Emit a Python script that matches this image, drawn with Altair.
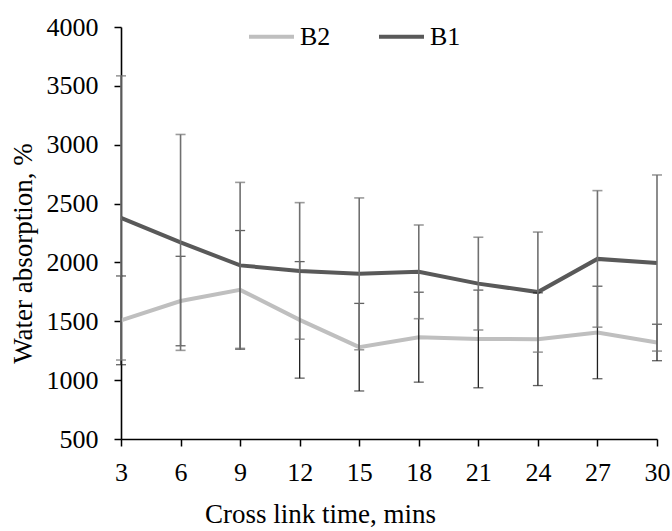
import altair as alt
import pandas as pd

x_vals = [3, 6, 9, 12, 15, 18, 21, 24, 27, 30]
b1_mean = [2378, 2170, 1975, 1928, 1903, 1920, 1820, 1748, 2030, 1995]
b1_err = [1207, 917, 705, 580, 645, 398, 394, 510, 580, 748]
b2_mean = [1508, 1672, 1767, 1512, 1280, 1365, 1350, 1348, 1405, 1320]
b2_err = [377, 380, 504, 495, 372, 382, 415, 394, 393, 155]
y_ticks = [500, 1000, 1500, 2000, 2500, 3000, 3500, 4000]

rows = []
for name, m, e in (("B2", b2_mean, b2_err), ("B1", b1_mean, b1_err)):
    for xv, mv, ev in zip(x_vals, m, e):
        rows.append({"series": name, "t": xv, "val": mv, "lo": mv - ev, "hi": mv + ev})
df = pd.DataFrame(rows)

FONT = "Liberation Serif"

xs = alt.X("t:Q", scale=alt.Scale(domain=[3, 30], nice=False, zero=False),
           axis=alt.Axis(values=x_vals, title="Cross link time, mins", format="d",
                         labelFlush=False,
                         titleX=199, titleY=83, titleBaseline="alphabetic",
                         titleAlign="center", labelPadding=13))
ys = alt.Y("val:Q", scale=alt.Scale(domain=[500, 4000], nice=False, zero=False),
           axis=alt.Axis(values=y_ticks, title="Water absorption, %", format="d",
                         labelFlush=False,
                         titleX=-90, titleY=226, titleAngle=-90,
                         titleBaseline="alphabetic", titleAlign="center",
                         labelPadding=16))

base = alt.Chart(df)

def bars(series, color, width):
    d = base.transform_filter(alt.datum.series == series)
    rule = d.mark_rule(color=color, strokeWidth=width).encode(
        x="t:Q", y="lo:Q", y2="hi:Q")
    cap_lo = d.mark_tick(color=color, thickness=width, size=10, orient="horizontal").encode(
        x="t:Q", y="lo:Q")
    cap_hi = d.mark_tick(color=color, thickness=width, size=10, orient="horizontal").encode(
        x="t:Q", y="hi:Q")
    return rule + cap_lo + cap_hi

lines = base.mark_line(strokeWidth=4).encode(
    x=xs, y=ys,
    color=alt.Color("series:N",
                    scale=alt.Scale(domain=["B2", "B1"], range=["#bfbfbf", "#595959"]),
                    sort=["B2", "B1"],
                    legend=alt.Legend(title=None, orient="none", direction="horizontal",
                                      legendX=126, legendY=-15,
                                      symbolType="stroke", symbolSize=2025,
                                      symbolStrokeWidth=4, labelOffset=4,
                                      columnPadding=40, padding=0,
                                      labelFont=FONT, labelFontSize=26,
                                      labelColor="black")),
)

chart = alt.layer(
    lines,
    bars("B2", "#1f1f1f", 1.3),
    bars("B1", "#707070", 1.6),
).properties(
    width=536, height=412,
    autosize=alt.AutoSizeParams(type="none"),
    padding={"left": 121, "top": 27, "right": 15, "bottom": 92},
    background="white",
).configure_view(stroke=None).configure_axis(
    grid=False, domainColor="black", domainWidth=1.6,
    tickColor="black", tickWidth=1.5, tickSize=7,
    labelFont=FONT, labelFontSize=26, labelColor="black",
    titleFont=FONT, titleFontSize=27, titleColor="black", titleFontWeight="normal",
)

chart.save("out.html", embed_options={"renderer": "svg", "actions": False})
